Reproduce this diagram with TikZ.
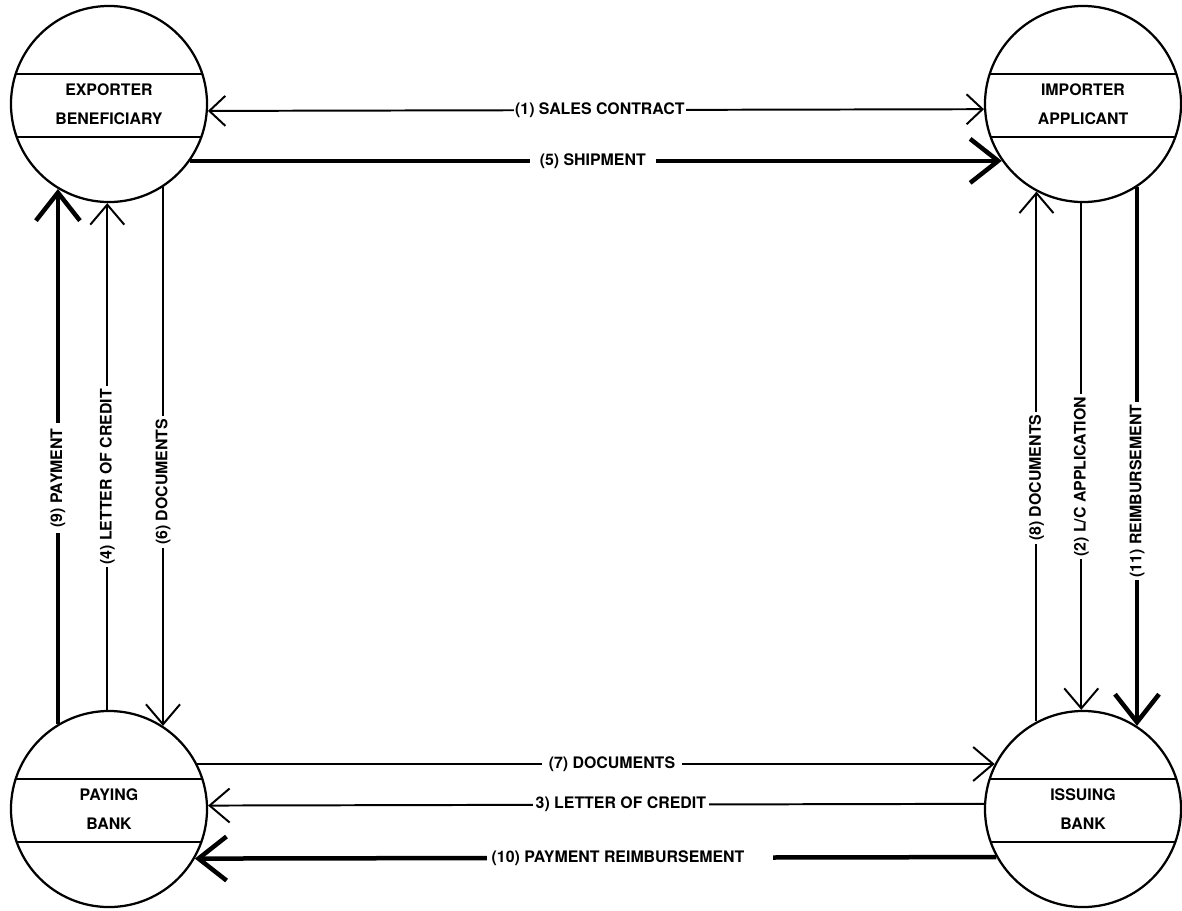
\documentclass[tikz,border=0pt]{standalone}
\usepackage{fontspec}
\setmainfont{TeX Gyre Heros}
\usetikzlibrary{arrows.meta}

\begin{document}
\begin{tikzpicture}[x=0.025cm, y=-0.025cm, font=\bfseries\fontsize{11.3}{21}\selectfont]

  \tikzstyle{party}=[circle, draw=black, line width=1.6pt, minimum size=4.9cm, align=center, inner sep=0pt,
    path picture={
      \draw[line width=1.5pt] ([yshift=0.75cm]path picture bounding box.west) -- ([yshift=0.75cm]path picture bounding box.east);
      \draw[line width=1.5pt] ([yshift=-0.82cm]path picture bounding box.west) -- ([yshift=-0.82cm]path picture bounding box.east);}]
  \tikzstyle{flow}=[line width=1.4pt, -{Straight Barb[length=0.5cm, width=0.85cm]}]
  \tikzstyle{flowboth}=[line width=1.4pt, {Straight Barb[length=0.4cm, width=0.75cm]}-{Straight Barb[length=0.4cm, width=0.75cm]}]
  \tikzstyle{heavyflow}=[line width=3.2pt, -{Straight Barb[length=0.7cm, width=1.1cm]}]
  \tikzstyle{lbl}=[fill=white, inner sep=2pt]

  \useasboundingbox (0,0) rectangle (1182,910);

  \node[party] (exp) at (109,104)  {EXPORTER\\BENEFICIARY};
  \node[party] (imp) at (1083,104) {IMPORTER\\APPLICANT};
  \node[party] (pay) at (109,809)  {PAYING\\BANK};
  \node[party] (iss) at (1083,809) {ISSUING\\BANK};

  % top
  \path (exp.356.5) edge[flowboth]  node[lbl, pos=.505, inner xsep=1pt] {(1) SALES CONTRACT} (imp.183.5)
        (exp.325)   edge[heavyflow] node[lbl, pos=.496, inner xsep=7pt] {(5) SHIPMENT} (imp.215);

  % left
  \path (pay.121) edge[heavyflow] node[lbl, pos=.46, rotate=90, inner xsep=4pt] {(9) PAYMENT} (exp.239)
        (pay.91)  edge[flow]      node[lbl, pos=.46, rotate=90] {(4) LETTER OF CREDIT} (exp.269)
        (exp.303) edge[flow]      node[lbl, pos=.547, rotate=90] {(6) DOCUMENTS} (pay.57);

  % right
  \path (iss.118) edge[flow]      node[lbl, pos=.46, rotate=90] {(8) DOCUMENTS} (imp.242)
        (imp.269) edge[flow]      node[lbl, pos=.54, rotate=90] {(2) L/C APPLICATION} (iss.91)
        (imp.303) edge[heavyflow] node[lbl, pos=.564, rotate=90] {(11) REIMBURSEMENT} (iss.57);

  % bottom
  \path (pay.27)    edge[flow]      node[lbl, pos=.52, inner xsep=5pt] {(7) DOCUMENTS} (iss.153)
        (iss.177.7) edge[flow]      node[lbl, pos=.468] {3) LETTER OF CREDIT} (pay.2.3)
        (iss.209.3) edge[heavyflow] node[lbl, pos=.457, inner xsep=3pt] {(10) PAYMENT REIMBURSEMENT\kern0.6cm} (pay.330.7);

\end{tikzpicture}
\end{document}
